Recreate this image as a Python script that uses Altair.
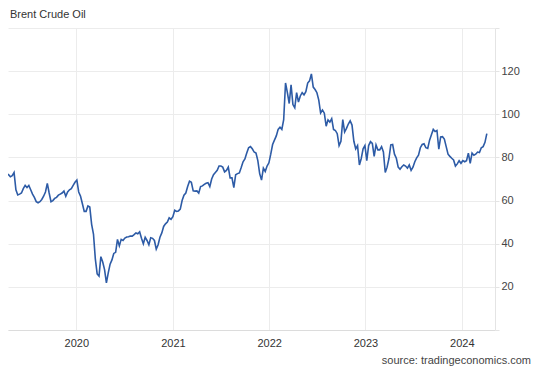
import altair as alt
import pandas as pd

title_text = "Brent Crude Oil"
source_text = "source: tradingeconomics.com"
first_week = "2019-04-05"

prices_2019 = [72, 72.5, 72, 71, 71.5, 73, 65, 62.6, 63, 63.5, 65.5, 67, 66, 67, 65, 63,
               61.5, 59.5, 59, 59.5, 60.5, 62, 64, 68, 63.5, 59.5, 60, 61, 61.5, 62.5, 63,
               63.5, 64.4, 62, 64, 65, 65.5, 67, 68.5]
prices_2020 = [69.5, 64, 62, 58.5, 55, 55, 57.5, 57, 49, 44.5, 33, 26, 25, 34, 31.5, 28,
               21.8, 26.5, 30.5, 32.5, 35.5, 36, 42, 39, 42, 41.5, 42.6, 43.1, 43.2, 43.6,
               43.5, 44.2, 45, 44.6, 45.5, 42.5, 40, 43, 41.5, 39.5, 42.8, 42.5, 41.5, 37.5,
               39.5, 43, 45, 48, 49.2, 50, 52, 51.3]
prices_2021 = [52.5, 55.5, 55, 55.2, 56, 60, 62.5, 63.5, 66.5, 69, 68.5, 64.5, 64.4, 64.5,
               63.5, 66.5, 66.8, 67.5, 68, 68.3, 66.5, 70, 72, 73, 74, 76, 76, 75.5, 73.3,
               74, 75.5, 70.5, 70.5, 66, 72, 72.5, 72.8, 75.3, 78, 79.3, 82, 84.5, 85, 84,
               82.5, 82, 78.5, 72.5, 69.5, 75, 73.5, 76, 77.5]
prices_2022 = [81.5, 86, 88, 90, 93, 94, 93, 97.5, 114.5, 110, 105, 113.6, 104.5, 103, 110,
               105.7, 108.5, 110, 109, 110.5, 114.5, 115.5, 118.7, 112.6, 111.5, 110, 106.6,
               100.6, 102, 100.5, 94.5, 97.4, 96.4, 98, 93, 92.5, 91, 85.5, 87.5, 97.5, 91.8,
               93.5, 95.5, 97, 95, 87.5, 84, 85.5, 76.5, 79.5, 84, 85.5]
prices_2023 = [78.5, 85.5, 87.3, 86.5, 80.5, 85.8, 83.5, 83.5, 85, 82.5, 73, 75.5, 79.5,
               85.8, 86, 81.5, 79.6, 75.5, 74.5, 75.7, 76.5, 76, 75, 76.5, 74, 75.5, 78,
               79.8, 81, 84.5, 86, 86.3, 84.5, 84.2, 88, 90.5, 93, 92, 92.5, 83.8, 89.5,
               89.6, 88.5, 85, 81.5, 80.5, 79.6, 78.8, 76, 77, 78.5, 77.3]
prices_2024 = [78.5, 78, 78.5, 82, 77.3, 82, 81, 81.5, 82.5, 82.3, 84.5, 85, 87, 91]

year_ticks = [2020, 2021, 2022, 2023, 2024]
y_ticks = [0, 20, 40, 60, 80, 100, 120, 140]

prices = prices_2019 + prices_2020 + prices_2021 + prices_2022 + prices_2023 + prices_2024
dates = pd.date_range(first_week, periods=len(prices), freq="7D").strftime("%Y-%m-%d")
df = pd.DataFrame({"date": dates, "price": prices})

FONT = "Liberation Sans"
GRID = "#ececec"

line = alt.Chart(df).mark_line(color="#2D5BA6", strokeWidth=1.6, clip=True).encode(
    x=alt.X(
        "date:T",
        scale=alt.Scale(
            type="utc",
            domain=[alt.DateTime(year=2019, month=4, date=17, utc=True),
                    alt.DateTime(year=2024, month=5, date=6, utc=True)],
        ),
        axis=alt.Axis(
            title=None,
            values=[alt.DateTime(year=y, month=1, date=1, utc=True) for y in year_ticks],
            format="%Y",
            formatType="utc",
            grid=True,
            gridColor=GRID,
            ticks=False,
            tickSize=0,
            domain=True,
            domainColor="#dcdcdc",
            labelPadding=7,
            labelFont=FONT,
            labelFontSize=11,
            labelColor="#333333",
        ),
    ),
    y=alt.Y(
        "price:Q",
        scale=alt.Scale(domain=[0, 140], nice=False, zero=True),
        axis=alt.Axis(
            title=None,
            orient="right",
            values=y_ticks,
            labelExpr="datum.value == 0 || datum.value == 140 ? '' : datum.label",
            grid=True,
            gridColor=GRID,
            domain=True,
            domainColor="#e4e4e4",
            ticks=True,
            tickSize=4,
            tickColor="#e4e4e4",
            labelPadding=2,
            labelFont=FONT,
            labelFontSize=11,
            labelColor="#444444",
        ),
    ),
)

title = alt.Chart(pd.DataFrame({"t": [title_text]})).mark_text(
    align="left", baseline="alphabetic", font=FONT, fontSize=11, color="#333333"
).encode(text="t:N", x=alt.value(2), y=alt.value(-10.5))

source = alt.Chart(pd.DataFrame({"t": [source_text]})).mark_text(
    align="right", baseline="alphabetic", font=FONT, fontSize=11, color="#444444"
).encode(text="t:N", x=alt.value(523), y=alt.value(336))

chart = (
    alt.layer(line, title, source)
    .properties(
        width=487,
        height=302,
        autosize=alt.AutoSizeParams(type="none"),
        padding={"left": 0, "top": 20, "right": 37, "bottom": 36},
    )
    .configure_view(strokeWidth=0)
)

chart.save("out.html", embed_options={"renderer": "svg", "actions": False})
